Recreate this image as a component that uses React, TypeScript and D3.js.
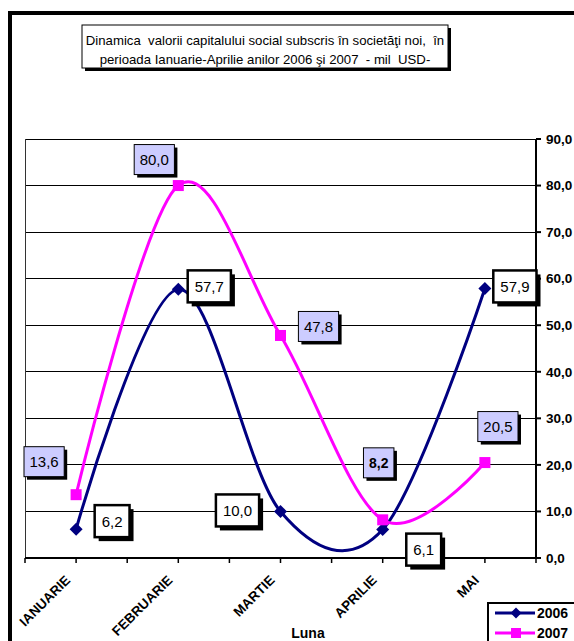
import React, { useEffect, useRef } from 'react';
import * as d3 from 'd3';

// Chart data
const months = ['IANUARIE', 'FEBRUARIE', 'MARTIE', 'APRILIE', 'MAI'];
const values2006 = [6.2, 57.7, 10.0, 6.1, 57.9];
const values2007 = [13.6, 80.0, 47.8, 8.2, 20.5];
const yTicks = [0, 10, 20, 30, 40, 50, 60, 70, 80, 90];
const seriesNames = ['2006', '2007'];

// Label placement relative to each point (layout only)
const labelOffsets2006 = [[36, -8], [31, -3], [-43, -1], [41, 20], [30, -2]];
const labelOffsets2007 = [[-32, -33], [-24, -26], [38, -9], [-4, -57], [13, -36]];

const titleLines = [
  'Dinamica  valorii capitalului social subscris în societăţi noi,  în',
  'perioada Ianuarie-Aprilie anilor 2006 şi 2007  - mil  USD-',
];

const fmt = (v: number) => v.toFixed(1).replace('.', ',');
const FONT = 'Arial, "Liberation Sans", sans-serif';

const App: React.FC = () => {
  const ref = useRef<HTMLDivElement>(null);

  useEffect(() => {
    if (!ref.current) return;
    d3.select(ref.current).selectAll('*').remove();

    const W = 574;
    const H = 641;
    const plot = { left: 25, right: 536, top: 139, bottom: 558 };

    const svg = d3.select(ref.current)
      .append('svg')
      .attr('width', W)
      .attr('height', H)
      .style('display', 'block')
      .style('font-family', FONT);

    svg.append('rect').attr('width', W).attr('height', H).attr('fill', '#fff');

    // outer frame
    svg.append('rect')
      .attr('x', 10).attr('y', 13)
      .attr('width', 700).attr('height', 700)
      .attr('fill', 'none')
      .attr('stroke', '#000')
      .attr('stroke-width', 4);

    // title box
    const tb = { x: 82, y: 25, w: 366, h: 43 };
    svg.append('rect')
      .attr('x', tb.x + 3).attr('y', tb.y + 3)
      .attr('width', tb.w).attr('height', tb.h)
      .attr('fill', '#000');
    svg.append('rect')
      .attr('x', tb.x).attr('y', tb.y)
      .attr('width', tb.w).attr('height', tb.h)
      .attr('fill', '#fff')
      .attr('stroke', '#000')
      .attr('stroke-width', 1);
    svg.append('g')
      .selectAll('text')
      .data(titleLines)
      .enter().append('text')
      .attr('x', tb.x + tb.w / 2)
      .attr('y', (_, i) => 45 + i * 19)
      .attr('text-anchor', 'middle')
      .style('font-size', '13.2px')
      .style('white-space', 'pre')
      .attr('fill', '#000')
      .text(d => d);

    // scales
    const x = d3.scaleBand<string>()
      .domain(months)
      .range([plot.left, plot.right]);
    const bw = x.bandwidth();
    const cx = (m: string) => (x(m) as number) + bw / 2;

    const y = d3.scaleLinear()
      .domain([0, 90])
      .range([plot.bottom, plot.top]);

    // gridlines
    svg.append('g')
      .selectAll('line')
      .data(yTicks.filter(t => t > 0))
      .enter().append('line')
      .attr('x1', plot.left).attr('x2', plot.right)
      .attr('y1', d => y(d)).attr('y2', d => y(d))
      .attr('stroke', '#000')
      .attr('stroke-width', 1)
      .attr('shape-rendering', 'crispEdges');

    // left border of plot
    svg.append('line')
      .attr('x1', plot.left).attr('x2', plot.left)
      .attr('y1', plot.top).attr('y2', plot.bottom)
      .attr('stroke', '#333')
      .attr('stroke-width', 1)
      .attr('shape-rendering', 'crispEdges');

    // right axis
    svg.append('line')
      .attr('x1', plot.right).attr('x2', plot.right)
      .attr('y1', plot.top).attr('y2', plot.bottom + 1)
      .attr('stroke', '#000')
      .attr('stroke-width', 2);
    const yAxis = svg.append('g');
    yAxis.selectAll('line')
      .data(yTicks)
      .enter().append('line')
      .attr('x1', plot.right).attr('x2', plot.right + 5)
      .attr('y1', d => y(d)).attr('y2', d => y(d))
      .attr('stroke', '#000')
      .attr('stroke-width', 2);
    yAxis.selectAll('text')
      .data(yTicks)
      .enter().append('text')
      .attr('x', plot.right + 10)
      .attr('y', d => y(d))
      .attr('dy', '0.35em')
      .style('font-size', '13.5px')
      .style('font-weight', 'bold')
      .text(d => fmt(d));

    // bottom axis
    svg.append('line')
      .attr('x1', plot.left).attr('x2', plot.right)
      .attr('y1', plot.bottom).attr('y2', plot.bottom)
      .attr('stroke', '#000')
      .attr('stroke-width', 2);
    const xTickPos: number[] = [];
    months.forEach(m => {
      xTickPos.push(x(m) as number);
      xTickPos.push(cx(m));
    });
    xTickPos.push(plot.right);
    svg.append('g')
      .selectAll('line')
      .data(xTickPos)
      .enter().append('line')
      .attr('x1', d => d).attr('x2', d => d)
      .attr('y1', plot.bottom).attr('y2', plot.bottom + 5)
      .attr('stroke', '#000')
      .attr('stroke-width', 1.5);
    svg.append('g')
      .selectAll('text')
      .data(months)
      .enter().append('text')
      .attr('transform', d => `translate(${cx(d) - 5},${plot.bottom + 23}) rotate(-45)`)
      .attr('text-anchor', 'end')
      .style('font-size', '13.5px')
      .style('font-weight', 'bold')
      .text(d => d);

    svg.append('text')
      .attr('x', 308)
      .attr('y', 638)
      .attr('text-anchor', 'middle')
      .style('font-size', '14px')
      .style('font-weight', 'bold')
      .text('Luna');

    // lines
    const line = d3.line<number>()
      .x((_, i) => cx(months[i]))
      .y(d => y(d))
      .curve(d3.curveCardinal.tension(0));

    svg.append('path')
      .datum(values2006)
      .attr('fill', 'none')
      .attr('stroke', '#000080')
      .attr('stroke-width', 3)
      .attr('d', line);
    svg.append('path')
      .datum(values2007)
      .attr('fill', 'none')
      .attr('stroke', '#ff00ff')
      .attr('stroke-width', 3)
      .attr('d', line);

    // markers
    const diamond = (r: number) => `M0,${-r}L${r},0L0,${r}L${-r},0Z`;
    svg.append('g')
      .selectAll('path')
      .data(values2006)
      .enter().append('path')
      .attr('transform', (d, i) => `translate(${cx(months[i])},${y(d)})`)
      .attr('d', diamond(6.5))
      .attr('fill', '#000080');
    svg.append('g')
      .selectAll('rect')
      .data(values2007)
      .enter().append('rect')
      .attr('x', (_, i) => cx(months[i]) - 5.5)
      .attr('y', d => y(d) - 5.5)
      .attr('width', 11).attr('height', 11)
      .attr('fill', '#ff00ff');

    // data labels
    const drawLabels = (
      values: number[],
      offsets: number[][],
      opts: { fill: string; stroke: number; shadow: number; h: number; pad: number },
    ) => {
      values.forEach((v, i) => {
        const px = cx(months[i]) + offsets[i][0];
        const py = y(v) + offsets[i][1];
        const bold = v === 8.2;
        const g = svg.append('g');
        const shadow = g.append('rect').attr('fill', '#000');
        const box = g.append('rect')
          .attr('fill', opts.fill)
          .attr('stroke', '#000')
          .attr('stroke-width', opts.stroke);
        const t = g.append('text')
          .attr('x', px)
          .attr('y', py)
          .attr('dy', '0.36em')
          .attr('text-anchor', 'middle')
          .style('font-size', bold ? '14px' : '15px')
          .style('font-weight', bold ? 'bold' : 'normal')
          .text(fmt(v));
        const tw = (t.node() as SVGTextElement).getComputedTextLength();
        const w = tw + opts.pad;
        box.attr('x', px - w / 2).attr('y', py - opts.h / 2)
          .attr('width', w).attr('height', opts.h);
        shadow.attr('x', px - w / 2 + opts.shadow).attr('y', py - opts.h / 2 + opts.shadow)
          .attr('width', w).attr('height', opts.h);
      });
    };
    drawLabels(values2006, labelOffsets2006, { fill: '#fff', stroke: 2.5, shadow: 4, h: 32, pad: 14 });
    drawLabels(values2007, labelOffsets2007, { fill: '#ccccff', stroke: 1, shadow: 3, h: 30, pad: 11 });

    // legend
    const lg = svg.append('g');
    lg.append('rect')
      .attr('x', 488).attr('y', 603)
      .attr('width', 120).attr('height', 60)
      .attr('fill', '#fff')
      .attr('stroke', '#000')
      .attr('stroke-width', 2);
    seriesNames.forEach((name, i) => {
      const ly = 613 + i * 20;
      const color = i === 0 ? '#000080' : '#ff00ff';
      lg.append('line')
        .attr('x1', 495).attr('x2', 535)
        .attr('y1', ly).attr('y2', ly)
        .attr('stroke', color)
        .attr('stroke-width', 3);
      if (i === 0) {
        lg.append('path')
          .attr('transform', `translate(516,${ly})`)
          .attr('d', diamond(5.5))
          .attr('fill', color);
      } else {
        lg.append('rect')
          .attr('x', 511).attr('y', ly - 5)
          .attr('width', 10).attr('height', 10)
          .attr('fill', color);
      }
      lg.append('text')
        .attr('x', 537)
        .attr('y', ly)
        .attr('dy', '0.35em')
        .style('font-size', '14px')
        .style('font-weight', 'bold')
        .text(name);
    });
  }, []);

  return <div ref={ref} style={{ position: 'absolute', left: 0, top: 0 }}></div>;
};

export default App;
